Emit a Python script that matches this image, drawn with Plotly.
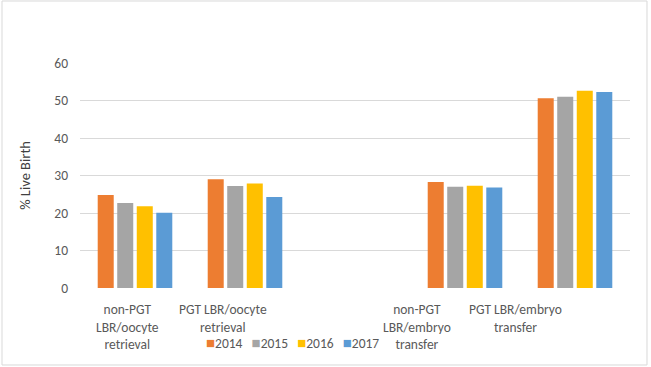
import plotly.graph_objects as go

categories = ["non-PGT LBR/oocyte retrieval", "PGT LBR/oocyte retrieval", " ",
              "non-PGT LBR/embryo transfer", "PGT LBR/embryo transfer"]
tick_labels = ["non-PGT<br>LBR/oocyte<br>retrieval", "PGT LBR/oocyte<br>retrieval",
               "non-PGT<br>LBR/embryo<br>transfer", "PGT LBR/embryo<br>transfer"]
years = ["2014", "2015", "2016", "2017"]
v2014 = [24.8, 29.0, None, 28.3, 50.6]
v2015 = [22.7, 27.2, None, 27.0, 51.0]
v2016 = [21.8, 27.9, None, 27.3, 52.6]
v2017 = [20.1, 24.3, None, 26.8, 52.3]
colors = ["#ED7D31", "#A5A5A5", "#FFC000", "#5B9BD5"]

FONT = "Carlito, Lato, sans-serif"
TXT = "#595959"

fig = go.Figure()
for name, vals, col in zip(years, [v2014, v2015, v2016, v2017], colors):
    fig.add_trace(go.Bar(x=categories, y=vals, name=name, marker_color=col,
                         marker_line_width=0, showlegend=False))

# category labels (placed as in the reference)
label_x = [0.0855, 0.2600, 0.6127, 0.7927]
for lx, t in zip(label_x, tick_labels):
    fig.add_annotation(x=lx, y=-0.05, xref="paper", yref="paper", text=t,
                       showarrow=False, xanchor="center", yanchor="top",
                       font=dict(family=FONT, size=13.5, color=TXT), align="center")

# legend built from series names/colors
leg = "&nbsp;&nbsp;&nbsp;".join(
    f"<span style='color:{c};font-size:15px'>■</span>{n}" for n, c in zip(years, colors))
fig.add_annotation(x=0.386, y=-0.245, xref="paper", yref="paper", text=leg,
                   showarrow=False, xanchor="center", yanchor="middle",
                   font=dict(family=FONT, size=13.5, color=TXT))

fig.add_shape(type="rect", xref="paper", yref="paper",
              x0=-0.1418, x1=1.0309, y0=-0.3422, y1=1.2756,
              line=dict(color="#D9D9D9", width=1), fillcolor="rgba(0,0,0,0)")

fig.update_layout(
    width=651, height=367,
    margin=dict(l=80, r=21, t=63, b=79),
    paper_bgcolor="white", plot_bgcolor="white",
    barmode="group", bargap=0.29, bargroupgap=0.18,
    font=dict(family=FONT, size=13, color=TXT),
    xaxis=dict(type="category", categoryorder="array", categoryarray=categories,
               showticklabels=False, showgrid=False, zeroline=False, showline=False,
               fixedrange=True),
    yaxis=dict(range=[0, 60], dtick=10, showgrid=True, gridcolor="#D9D9D9",
               gridwidth=1, zeroline=False, showline=False,
               ticklabelstandoff=11,
               tickfont=dict(family=FONT, size=13.5, color=TXT),
               title=dict(text="% Live Birth", standoff=20,
                          font=dict(family=FONT, size=14.5, color="#404040")),
               automargin=False),
)

fig.write_html("out.html", config={"displayModeBar": False},
               post_script="document.body.style.margin='0';document.body.style.overflow='hidden';")
